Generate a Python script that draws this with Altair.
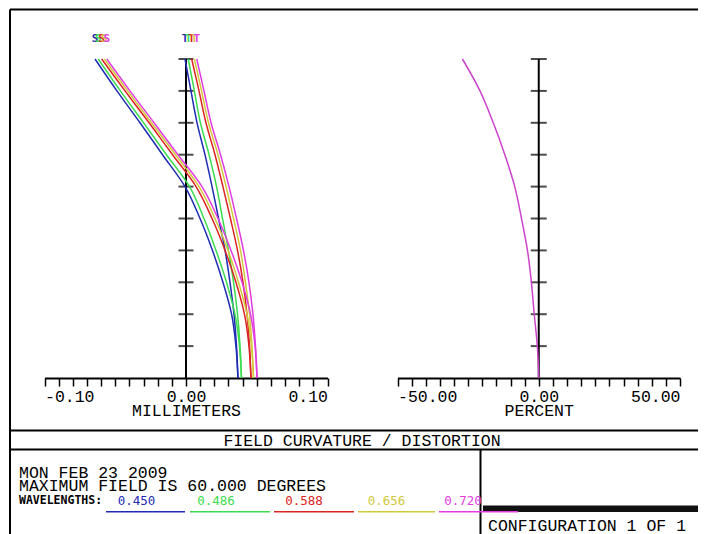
import altair as alt
import pandas as pd

# ---------------- data ----------------
field_deg = [0, 6, 12, 18, 24, 30, 36, 42, 48, 54, 60]
wavelengths = ["0.450", "0.486", "0.588", "0.656", "0.720"]
wl_colors = ["#1e2db4", "#3cdc50", "#dc2323", "#d2c83c", "#e13ce1"]

sag_450 = [0.0367, 0.0353, 0.0322, 0.0261, 0.0187, 0.0099, -0.0007, -0.0166, -0.0325, -0.0488, -0.0643]
sag_486 = [0.0392, 0.0378, 0.0346, 0.0286, 0.0212, 0.0127, 0.0025, -0.0138, -0.0300, -0.0464, -0.0620]
sag_588 = [0.0459, 0.0445, 0.0413, 0.0353, 0.0276, 0.0184, 0.0071, -0.0095, -0.0261, -0.0431, -0.0596]
sag_656 = [0.0477, 0.0463, 0.0431, 0.0371, 0.0297, 0.0205, 0.0092, -0.0074, -0.0244, -0.0413, -0.0577]
sag_720 = [0.0502, 0.0488, 0.0456, 0.0396, 0.0318, 0.0226, 0.0113, -0.0057, -0.0226, -0.0396, -0.0560]

tan_450 = [0.0367, 0.0357, 0.0339, 0.0311, 0.0276, 0.0230, 0.0184, 0.0134, 0.0078, 0.0035, -0.0007]
tan_486 = [0.0392, 0.0382, 0.0364, 0.0336, 0.0300, 0.0258, 0.0216, 0.0163, 0.0102, 0.0059, 0.0016]
tan_588 = [0.0459, 0.0449, 0.0431, 0.0403, 0.0364, 0.0314, 0.0261, 0.0205, 0.0141, 0.0092, 0.0040]
tan_656 = [0.0477, 0.0466, 0.0449, 0.0420, 0.0385, 0.0336, 0.0283, 0.0226, 0.0159, 0.0110, 0.0059]
tan_720 = [0.0502, 0.0491, 0.0473, 0.0445, 0.0406, 0.0357, 0.0304, 0.0244, 0.0177, 0.0127, 0.0076]

distortion_pct = [0.0, -0.5, -1.6, -2.6, -4.0, -6.1, -8.5, -12.0, -16.1, -20.8, -27.0]

mm_ticks = [-0.10, -0.09, -0.08, -0.07, -0.06, -0.05, -0.04, -0.03, -0.02, -0.01, 0.0,
            0.01, 0.02, 0.03, 0.04, 0.05, 0.06, 0.07, 0.08, 0.09, 0.10]
mm_labels = [(-0.10, "-0.10"), (0.0, "0.00"), (0.10, "0.10")]
pct_ticks = [-50, -45, -40, -35, -30, -25, -20, -15, -10, -5, 0,
             5, 10, 15, 20, 25, 30, 35, 40, 45, 50]
pct_labels = [(-50, "-50.00"), (0, "0.00"), (50, "50.00")]

title_text = "FIELD CURVATURE / DISTORTION"
date_text = "MON FEB 23 2009"
field_text = "MAXIMUM FIELD IS 60.000 DEGREES"
wl_title = "WAVELENGTHS:"
config_text = "CONFIGURATION 1 OF 1"

# ---------------- tables ----------------
sags = [sag_450, sag_486, sag_588, sag_656, sag_720]
tans = [tan_450, tan_486, tan_588, tan_656, tan_720]
rows = []
for wl, s, t in zip(wavelengths, sags, tans):
    for f, v in zip(field_deg, s):
        rows.append({"wl": wl, "key": "S" + wl, "field": f, "mm": v})
    for f, v in zip(field_deg, t):
        rows.append({"wl": wl, "key": "T" + wl, "field": f, "mm": v})
curves = pd.DataFrame(rows)

labels_rows = []
for wl, s in zip(wavelengths, sags):
    labels_rows.append({"wl": wl, "mm": s[-1], "field": field_deg[-1], "txt": "S"})
for wl, t in zip(wavelengths, tans):
    labels_rows.append({"wl": wl, "mm": t[-1], "field": field_deg[-1], "txt": "T"})
st_labels = pd.DataFrame(labels_rows)

dist = pd.DataFrame({"field": field_deg, "pct": distortion_pct})
yticks = pd.DataFrame({"field": field_deg[1:], "zero": [0] * (len(field_deg) - 1)})

FONT = "Liberation Mono"
FS = 16.5
W, H = 690, 526

sx_mm = alt.Scale(domain=[-0.1, 0.1], range=[36.5, 319.5], nice=False, zero=False)
sx_pct = alt.Scale(domain=[-50, 50], range=[389.5, 672], nice=False, zero=False)
sy = alt.Scale(domain=[0, 60], range=[370, 51], nice=False, zero=False)
color = alt.Color("wl:N", scale=alt.Scale(domain=wavelengths, range=wl_colors), legend=None)


def label_expr(pairs):
    expr = "''"
    for v, s in reversed(pairs):
        expr = f"abs(datum.value - ({v})) < 1e-6 ? '{s}' : ({expr})"
    return expr


def axis(values, pairs, title):
    return alt.Axis(
        orient="bottom", offset=-(H - 370), values=values, grid=False,
        tickSize=8, tickWidth=1.5, tickColor="black",
        domainColor="black", domainWidth=2,
        labelExpr=label_expr(pairs), labelFlush=True, labelOverlap=False,
        labelFont=FONT, labelFontSize=FS, labelColor="black", labelPadding=2,
        title=title, titleFont=FONT, titleFontSize=FS, titleFontWeight="normal",
        titleColor="black", titleBaseline="middle", titleY=32,
    )


one = pd.DataFrame({"a": [0]})

# left plot: field curvature
left_axis = alt.Chart(pd.DataFrame({"zero": [0], "f0": [0], "f1": [60]})).mark_rule(
    color="black", strokeWidth=2
).encode(
    x=alt.X("zero:Q", scale=sx_mm, axis=axis(mm_ticks, mm_labels, "MILLIMETERS")),
    y=alt.Y("f0:Q", scale=sy, axis=None),
    y2="f1:Q",
)
left_ticks = alt.Chart(yticks).mark_tick(orient="horizontal", size=15, thickness=2, color="black").encode(
    x=alt.X("zero:Q", scale=sx_mm, axis=None),
    y=alt.Y("field:Q", scale=sy, axis=None),
)
fc_lines = alt.Chart(curves).mark_line(strokeWidth=1.5, interpolate="cardinal").encode(
    x=alt.X("mm:Q", scale=sx_mm, axis=None),
    y=alt.Y("field:Q", scale=sy, axis=None),
    color=color,
    detail="key:N",
    order=alt.Order("field:Q"),
)
fc_text = alt.Chart(st_labels).mark_text(
    dy=-20, font="DejaVu Sans Mono", fontSize=11, fontWeight="bold"
).encode(
    x=alt.X("mm:Q", scale=sx_mm, axis=None),
    y=alt.Y("field:Q", scale=sy, axis=None),
    text="txt:N",
    color=color,
)

# right plot: distortion
right_axis = alt.Chart(pd.DataFrame({"zero": [0], "f0": [0], "f1": [60]})).mark_rule(
    color="black", strokeWidth=2
).encode(
    x=alt.X("zero:Q", scale=sx_pct, axis=axis(pct_ticks, pct_labels, "PERCENT")),
    y=alt.Y("f0:Q", scale=sy, axis=None),
    y2="f1:Q",
)
right_ticks = alt.Chart(yticks).mark_tick(orient="horizontal", size=16, thickness=2, color="black").encode(
    x=alt.X("zero:Q", scale=sx_pct, axis=None),
    y=alt.Y("field:Q", scale=sy, axis=None),
)
dist_line = alt.Chart(dist).mark_line(strokeWidth=1.5, interpolate="cardinal", color="#cc44cc").encode(
    x=alt.X("pct:Q", scale=sx_pct, axis=None),
    y=alt.Y("field:Q", scale=sy, axis=None),
    order=alt.Order("field:Q"),
)


# ---------------- frame and text block ----------------
def hline(x1, x2, y, w=2):
    return alt.Chart(one).mark_rule(color="black", strokeWidth=w).encode(
        x=alt.value(x1), x2=alt.value(x2), y=alt.value(y))


def vline(x, y1, y2, w=2):
    return alt.Chart(one).mark_rule(color="black", strokeWidth=w).encode(
        x=alt.value(x), y=alt.value(y1), y2=alt.value(y2))


def text(x, y, s, size=FS, col="black", align="left", weight="normal", font=FONT):
    return alt.Chart(one).mark_text(
        text=s, align=align, baseline="middle", font=font, fontSize=size,
        color=col, fontWeight=weight
    ).encode(x=alt.value(x), y=alt.value(y))


deco = [
    hline(2, W, 1.5),
    vline(2, 1.5, H),
    hline(2, W, 422.5),
    hline(2, W, 441.5),
    vline(472.5, 441.5, H),
    text(354, 432.5, title_text, align="center"),
    text(11, 465, date_text),
    text(11, 478, field_text),
    text(11, 492.5, wl_title, size=11.5, weight="bold", font="DejaVu Sans Mono"),
    alt.Chart(one).mark_rect(color="#111111").encode(
        x=alt.value(475), x2=alt.value(W), y=alt.value(497.5), y2=alt.value(504)),
    text(480, 517.5, config_text),
]

wl_label_x = [128.5, 208, 296, 378.5, 455]
wl_line_x = [(98, 177), (182, 262), (266, 346), (350, 427), (431, 510)]
for wl, col, lx, (a, b) in zip(wavelengths, wl_colors, wl_label_x, wl_line_x):
    deco.append(text(lx, 492.5, wl, size=12.5, col=col, align="center", font="DejaVu Sans Mono"))
    deco.append(alt.Chart(one).mark_rule(color=col, strokeWidth=1.5).encode(
        x=alt.value(a), x2=alt.value(b), y=alt.value(503.7)))

chart = alt.layer(
    left_axis, left_ticks, fc_lines, fc_text,
    right_axis, right_ticks, dist_line,
    *deco,
).resolve_scale(x="independent").properties(
    width=W, height=H, padding=0, autosize="none", background="white"
).configure_view(stroke=None)

chart.save("out.html", embed_options={"renderer": "svg", "actions": False})
